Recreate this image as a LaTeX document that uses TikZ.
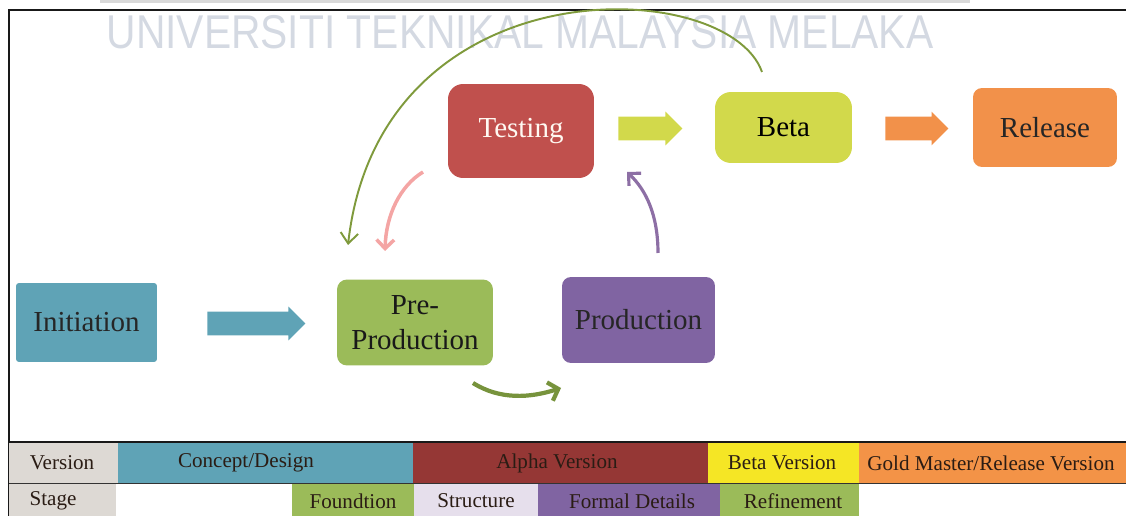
\documentclass[tikz,border=0pt]{standalone}
\usepackage{fontspec}
\setmainfont{Liberation Serif}
\newfontfamily\markfont{Liberation Sans}
\usetikzlibrary{shapes.arrows,arrows.meta}
\definecolor{initblue}{HTML}{5FA3B6}
\definecolor{preprodgreen}{HTML}{9BBB59}
\definecolor{prodpurple}{HTML}{8064A2}
\definecolor{testred}{HTML}{C0504D}
\definecolor{betalime}{HTML}{D2D94B}
\definecolor{releaseorange}{HTML}{F2914A}
\definecolor{alphared}{HTML}{953735}
\definecolor{betayellow}{HTML}{F5E625}
\definecolor{goldorange}{HTML}{F39347}
\definecolor{headgray}{HTML}{DDD9D4}
\definecolor{structlilac}{HTML}{E6DFEC}
\definecolor{loopgreen}{HTML}{7F9A3C}
\definecolor{stepgreen}{HTML}{77933C}
\definecolor{backpink}{HTML}{F4A5A4}
\definecolor{uppurple}{HTML}{8D6FA5}
\definecolor{markgray}{HTML}{D4D9E2}
\definecolor{celltext}{HTML}{2A1C14}
\tikzset{
  phase/.style={rounded corners=#1,inner sep=0pt,font=\fontsize{16.5}{20}\selectfont,align=center},
  blockarrow/.style={single arrow,fill=#1,anchor=tail,inner xsep=0pt,inner ysep=0.23cm,single arrow head extend=0.1cm},
  celltxt/.style={font=\fontsize{12}{14}\selectfont,text=celltext,inner sep=0pt}
}
\begin{document}
\begin{tikzpicture}[x=0.02cm,y=-0.02cm]
\useasboundingbox (0,0) rectangle (1126,516);
\fill[color={black!15}] (100,0) rectangle (970,3);
\node[color=markgray,font=\markfont\fontsize{27}{30}\selectfont,xscale=0.86,inner sep=0pt] (watermark) at (520,32) {UNIVERSITI TEKNIKAL MALAYSIA MELAKA};
\draw[color={black!90},line width=1.1pt] (8,10)--(1126,10);
\draw[color={black!90},line width=1.1pt] (9,10)--(9,516);
\node[phase=0.06cm,fill=initblue,text={black!85},minimum width=2.82cm,minimum height=1.58cm] (init) at (86.5,322.5) {Initiation};
\node[phase=0.2cm,fill=preprodgreen,text={black!90},minimum width=3.12cm,minimum height=1.72cm] (preprod) at (415,322.5) {Pre-\\Production};
\node[phase=0.18cm,fill=prodpurple,text={black!85},minimum width=3.06cm,minimum height=1.72cm] (prod) at (638.5,320) {Production};
\node[phase=0.3cm,fill=testred,text={white!95!orange},minimum width=2.92cm,minimum height=1.88cm] (testing) at (521,131) {Testing};
\node[phase=0.32cm,fill=betalime,text=black,minimum width=2.74cm,minimum height=1.42cm] (beta) at (783.5,127.5) {Beta};
\node[phase=0.18cm,fill=releaseorange,text={black!85},minimum width=2.88cm,minimum height=1.58cm] (release) at (1045,127.5) {Release};
\node[blockarrow=initblue,minimum height=1.96cm] (initarrow) at (207,323.5) {};
\node[blockarrow=betalime,minimum height=1.28cm] (testarrow) at (618,128.5) {};
\node[blockarrow=releaseorange,minimum height=1.26cm] (betaarrow) at (885,128.5) {};
\coordinate (loopstart) at (762,72);
\coordinate (loopend) at (348,245);
\coordinate (backstart) at (423,172);
\coordinate (backend) at (385,251);
\coordinate (upstart) at (658,253);
\coordinate (upend) at (627,172);
\coordinate (stepstart) at (473,383);
\coordinate (stepend) at (561,388);
\draw[color=loopgreen,line width=1.1pt,-{Straight Barb[length=6pt,width=10pt]}] (loopstart) .. controls (728,-25) and (380,-38) .. (loopend);
\draw[color=backpink,line width=2pt,-{Straight Barb[length=5pt,width=10pt]}] (backstart) .. controls (400,186) and (386,215) .. (backend);
\draw[color=uppurple,line width=1.8pt,-{Straight Barb[length=5pt,width=10pt]}] (upstart) .. controls (658,215) and (646,190) .. (upend);
\draw[color=stepgreen,line width=2.4pt,-{Straight Barb[length=5pt,width=11pt]}] (stepstart) .. controls (500,400) and (530,398) .. (stepend);
\fill[color=headgray] (9,442) rectangle (118,483);
\fill[color=initblue] (118,442) rectangle (413,483);
\fill[color=alphared] (413,442) rectangle (708,483);
\fill[color=betayellow] (708,442) rectangle (859,483);
\fill[color=goldorange] (859,442) rectangle (1126,483);
\fill[color=headgray] (9,484) rectangle (116,516);
\fill[color=preprodgreen] (292,484) rectangle (414,516);
\fill[color=structlilac] (414,484) rectangle (538,516);
\fill[color=prodpurple] (538,484) rectangle (720,516);
\fill[color=preprodgreen] (720,484) rectangle (859,516);
\draw[color={black!90},line width=1.1pt] (9,442)--(1126,442);
\draw[color={black!80},line width=1.1pt] (9,483.5)--(1126,483.5);
\node[celltxt] (version) at (62,463) {Version};
\node[celltxt] (concept) at (246,463) {Concept/Design};
\node[celltxt] (alpha) at (557,463) {Alpha Version};
\node[celltxt] (betaver) at (782,463) {Beta Version};
\node[celltxt] (gold) at (991,463) {Gold Master/Release Version};
\node[celltxt] (stage) at (53,501) {Stage};
\node[celltxt] (foundation) at (353,501) {Foundtion};
\node[celltxt] (structure) at (476,501) {Structure};
\node[celltxt] (formal) at (632,501) {Formal Details};
\node[celltxt] (refinement) at (793,501) {Refinement};
\end{tikzpicture}
\end{document}
